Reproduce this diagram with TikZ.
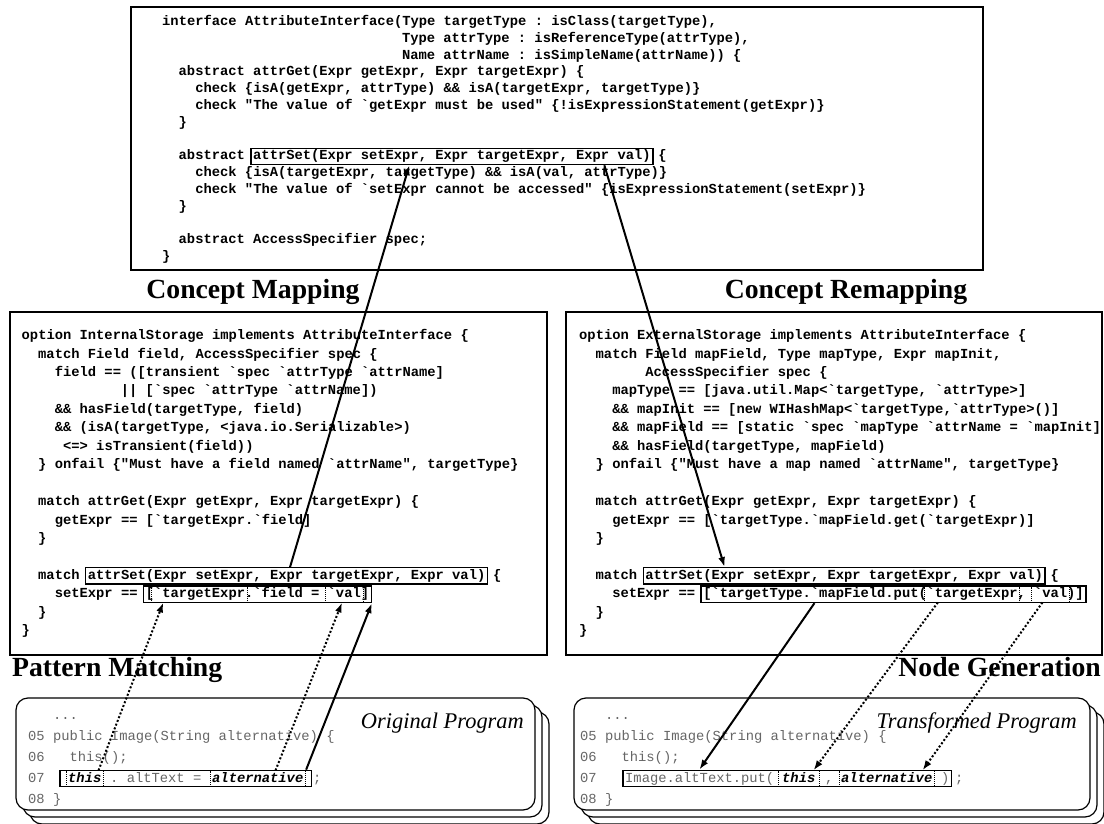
\documentclass[tikz,border=0pt]{standalone}
\usepackage{fontspec}
\setmainfont{Liberation Serif}
\setmonofont{Liberation Mono}
\usetikzlibrary{arrows.meta,positioning,fit}

\newcommand\codefnt{\fontsize{13.8pt}{16pt}\selectfont\ttfamily\bfseries}
\newcommand\progfnt{\fontsize{13.8pt}{16pt}\selectfont\ttfamily}
\newcommand\headfnt{\fontsize{27.7pt}{30pt}\selectfont\bfseries}
\newcommand\capfnt{\fontsize{22.4pt}{24pt}\selectfont\itshape}

\begin{document}
\begin{tikzpicture}[
		  x=1pt, y=-1pt, >={Latex[length=10pt,width=7pt]},
		  code/.style={font=\codefnt, anchor=base west, inner sep=0pt, text height=10pt, text depth=3pt},
		  prog/.style={code, font=\progfnt, text=black!60},
		  hit/.style={code, font=\progfnt\bfseries\itshape},
		  panel/.style={draw, line width=1.2pt},
		  hbox/.style={draw, line width=1.3pt, inner xsep=2pt, inner ysep=1.5pt},
		  dbox/.style={draw, line width=0.9pt, dash pattern=on 1pt off 1pt, inner xsep=2pt, inner ysep=1pt},
		  stack/.style={draw, fill=white, rounded corners=12pt, line width=1.2pt},
		  map/.style={->, line width=2pt},
		  bind/.style={->, line width=2pt, dash pattern=on 2pt off 2pt},
		  heading/.style={font=\headfnt, inner sep=0pt, anchor=base},
		  caption/.style={font=\capfnt, inner sep=0pt, anchor=base east}
		]
		\path[use as bounding box, fill=white] (0,0) rectangle (1104,824);
		
		% concept interface
		\draw[panel] (131,7) rectangle (983,270);
		\node[code] at (162,25.5) {interface AttributeInterface(Type targetType : isClass(targetType),};
		\node[code] at (401.8,42.3) {Type attrType : isReferenceType(attrType),};
		\node[code] at (401.8,59.1) {Name attrName : isSimpleName(attrName)) \{};
		\node[code] at (178.5,75.9) {abstract attrGet(Expr getExpr, Expr targetExpr) \{};
		\node[code] at (195.1,92.7) {check \{isA(getExpr, attrType) \&\& isA(targetExpr, targetType)\}};
		\node[code] at (195.1,109.5) {check "The value of `getExpr must be used" \{!isExpressionStatement(getExpr)\}};
		\node[code] at (178.5,126.3) {\}};
		\node[code] at (178.5,159.9) {abstract};
		\node[code] (tset) at (253,159.9) {attrSet(Expr setExpr, Expr targetExpr, Expr val)};
		\node[code] at (658.2,159.9) {\{};
		\node[code] at (195.1,176.7) {check \{isA(targetExpr, targetType) \&\& isA(val, attrType)\}};
		\node[code] at (195.1,193.5) {check "The value of `setExpr cannot be accessed" \{isExpressionStatement(setExpr)\}};
		\node[code] at (178.5,210.3) {\}};
		\node[code] at (178.5,243.9) {abstract AccessSpecifier spec;};
		\node[code] at (162,260.7) {\}};
		\node[hbox, fit=(tset)] (tsetbox) {};
		
		\node[heading] at (253,298) {Concept Mapping};
		\node[heading] at (846,298) {Concept Remapping};
		
		% internal storage option
		\draw[panel] (10,312) rectangle (547,655);
		\node[code] at (21.5,339.5) {option InternalStorage implements AttributeInterface \{};
		\node[code] at (38,358) {match Field field, AccessSpecifier spec \{};
		\node[code] at (54.6,376.4) {field == ([transient `spec `attrType `attrName]};
		\node[code] at (120.7,394.9) {|| [`spec `attrType `attrName])};
		\node[code] at (54.6,413.3) {\&\& hasField(targetType, field)};
		\node[code] at (54.6,431.8) {\&\& (isA(targetType, <java.io.Serializable>)};
		\node[code] at (62.9,450.2) {<=> isTransient(field))};
		\node[code] at (38,468.7) {\} onfail \{"Must have a field named `attrName", targetType\}};
		\node[code] at (38,505.6) {match attrGet(Expr getExpr, Expr targetExpr) \{};
		\node[code] at (54.6,524) {getExpr == [`targetExpr.`field]};
		\node[code] at (38,542.5) {\}};
		\node[code] at (38,579.4) {match};
		\node[code] (lset) at (87.7,579.4) {attrSet(Expr setExpr, Expr targetExpr, Expr val)};
		\node[code] at (492.9,579.4) {\{};
		\node[code] at (54.6,597.8) {setExpr ==};
		\node[code] (lbra) at (145.6,597.8) {[};
		\node[code] (ltex) at (153.8,597.8) {`targetExpr};
		\node[code] at (244.8,597.8) {.`field =};
		\node[code] (lval) at (327.5,597.8) {`val};
		\node[code] (lket) at (360.6,597.8) {]};
		\node[code] at (38,616.3) {\}};
		\node[code] at (21.5,634.7) {\}};
		\node[hbox, fit=(lset)] (lsetbox) {};
		\node[hbox, fit=(lbra)(lket)] (lexpbox) {};
		\node[dbox, fit=(ltex)] (ltexbox) {};
		\node[dbox, fit=(lval)] (lvalbox) {};
		
		% external storage option
		\draw[panel] (566,312) rectangle (1102,655);
		\node[code] at (579,339.5) {option ExternalStorage implements AttributeInterface \{};
		\node[code] at (595.5,358) {match Field mapField, Type mapType, Expr mapInit,};
		\node[code] at (645.2,376.4) {AccessSpecifier spec \{};
		\node[code] at (612.1,394.9) {mapType == [java.util.Map<`targetType, `attrType>]};
		\node[code] at (612.1,413.3) {\&\& mapInit == [new WIHashMap<`targetType,`attrType>()]};
		\node[code] at (612.1,431.8) {\&\& mapField == [static `spec `mapType `attrName = `mapInit]};
		\node[code] at (612.1,450.2) {\&\& hasField(targetType, mapField)};
		\node[code] at (595.5,468.7) {\} onfail \{"Must have a map named `attrName", targetType\}};
		\node[code] at (595.5,505.6) {match attrGet(Expr getExpr, Expr targetExpr) \{};
		\node[code] at (612.1,524) {getExpr == [`targetType.`mapField.get(`targetExpr)]};
		\node[code] at (595.5,542.5) {\}};
		\node[code] at (595.5,579.4) {match};
		\node[code] (rset) at (645.2,579.4) {attrSet(Expr setExpr, Expr targetExpr, Expr val)};
		\node[code] at (1050.4,579.4) {\{};
		\node[code] at (612.1,597.8) {setExpr ==};
		\node[code] (rputa) at (703.1,597.8) {[`targetType.`mapField.put(};
		\node[code] (rtex) at (926.3,597.8) {`targetExpr};
		\node[code] at (1017.3,597.8) {,};
		\node[code] (rval) at (1033.9,597.8) {`val};
		\node[code] (rputb) at (1066.9,597.8) {)]};
		\node[code] at (595.5,616.3) {\}};
		\node[code] at (579,634.7) {\}};
		\node[hbox, fit=(rset)] (rsetbox) {};
		\node[hbox, fit=(rputa)(rputb)] (rexpbox) {};
		\node[dbox, fit=(rtex)] (rtexbox) {};
		\node[dbox, fit=(rval)] (rvalbox) {};
		
		\node[heading, anchor=base west] at (12,676) {Pattern Matching};
		\node[heading, anchor=base east] at (1101,676) {Node Generation};
		
		% original program
		\draw[stack] (30,712) rectangle (549,824);
		\draw[stack] (23,705) rectangle (542,817);
		\draw[stack] (16,698) rectangle (535,810);
		\node[caption] at (524,728) {Original Program};
		\node[prog] at (52.8,719) {...};
		\node[prog] at (28,740) {05 public Image(String alternative) \{};
		\node[prog] at (28,761) {06};
		\node[prog] at (69.4,761) {this();};
		\node[prog] at (28,782) {07};
		\node[hit] (othis) at (68,782) {this};
		\node[prog] at (110,782) {. altText =};
		\node[hit] (oalt) at (212,782) {alternative};
		\node[prog] at (313,782) {;};
		\node[prog] at (28,803) {08 \}};
		\node[dbox, fit=(othis)] (othisbox) {};
		\node[dbox, fit=(oalt)] (oaltbox) {};
		\node[hbox, fit=(othis)(oalt), inner xsep=8pt] (o07box) {};
		
		% transformed program
		\draw[stack] (588,712) rectangle (1104,824);
		\draw[stack] (581,705) rectangle (1097,817);
		\draw[stack] (574,698) rectangle (1090,810);
		\node[caption] at (1077,728) {Transformed Program};
		\node[prog] at (604.8,719) {...};
		\node[prog] at (580,740) {05 public Image(String alternative) \{};
		\node[prog] at (580,761) {06};
		\node[prog] at (621.4,761) {this();};
		\node[prog] at (580,782) {07};
		\node[prog] (timg) at (625,782) {Image.altText.put(};
		\node[hit] (tthis) at (782,782) {this};
		\node[prog] at (825,782) {,};
		\node[hit] (talt) at (841,782) {alternative};
		\node[prog] (tclose) at (941,782) {)};
		\node[prog] at (955,782) {;};
		\node[prog] at (580,803) {08 \}};
		\node[dbox, fit=(tthis), inner xsep=4pt] (tthisbox) {};
		\node[dbox, fit=(talt)] (taltbox) {};
		\node[hbox, fit=(timg)(tclose)] (t07box) {};
		
		\draw[map] ([xshift=205pt]lsetbox.north west) -- ([xshift=159pt]tsetbox.south west);
		\draw[map] ([xshift=354pt]tsetbox.south west) -- ([xshift=82pt]rsetbox.north west);
		\draw[map] ([xshift=-6pt]o07box.north east) -- (lexpbox.south east);
		\draw[bind] ([xshift=33pt]othisbox.north west) -- ([xshift=12pt]ltexbox.south west);
		\draw[bind] ([xshift=66pt]oaltbox.north west) -- ([xshift=17pt]lvalbox.south west);
		\draw[map] ([xshift=114pt]rexpbox.south west) -- ([xshift=77pt]t07box.north west);
		\draw[bind] ([xshift=14pt]rtexbox.south west) -- ([xshift=36pt]tthisbox.north west);
		\draw[bind] ([xshift=11pt]rvalbox.south west) -- ([xshift=84pt]taltbox.north west);
		\end{tikzpicture}
\end{document}
